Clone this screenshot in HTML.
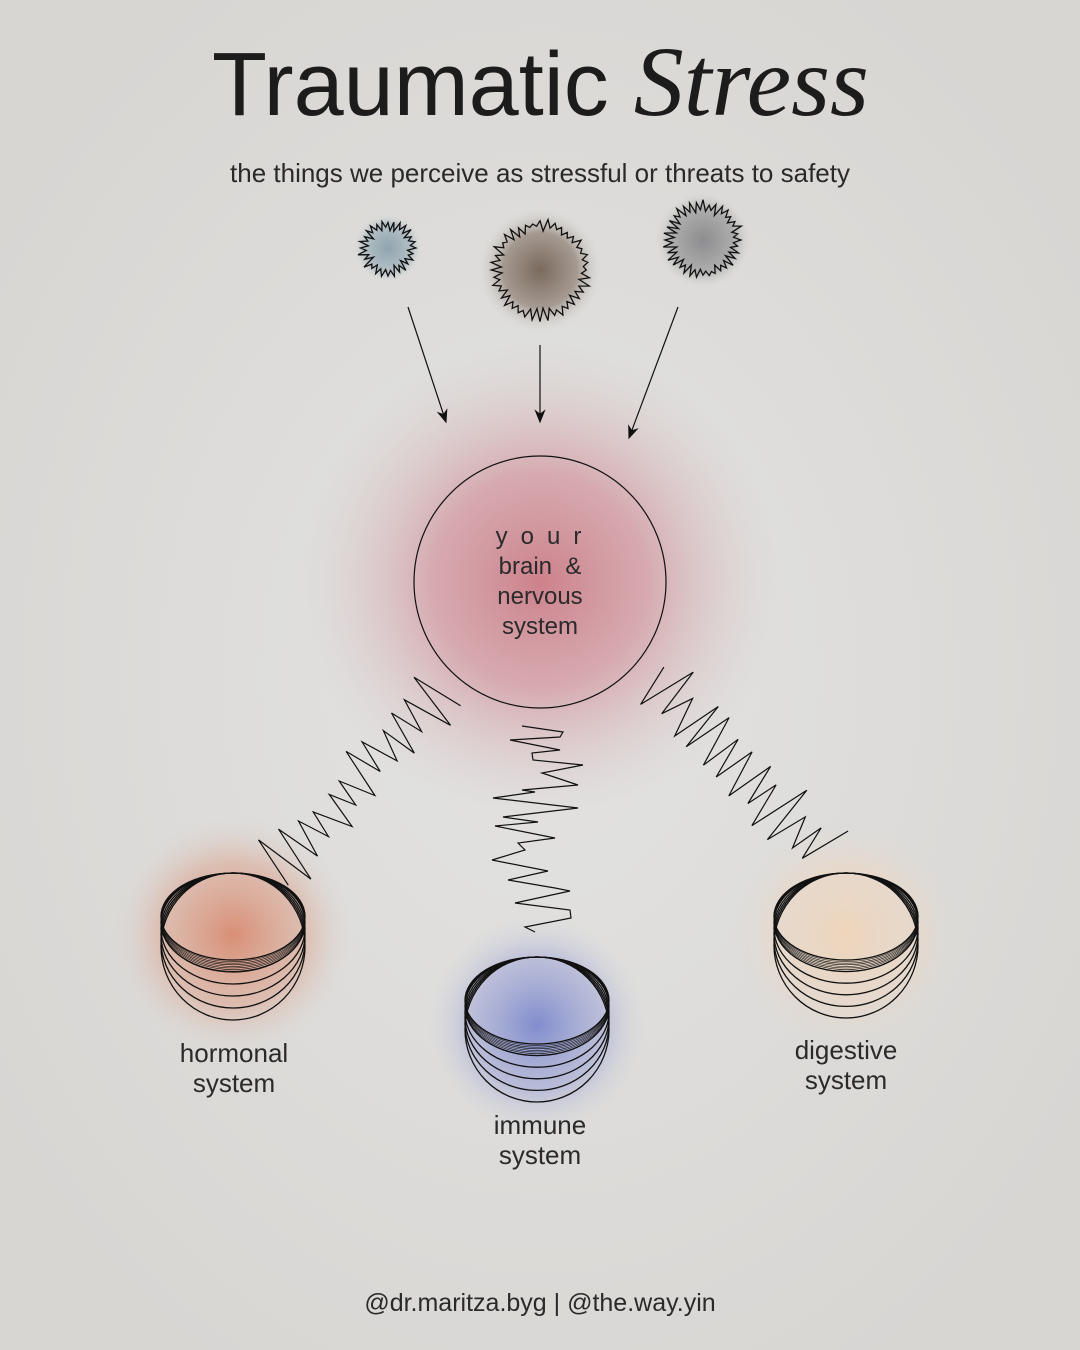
<!DOCTYPE html>
<html><head><meta charset="utf-8">
<style>
html,body{margin:0;padding:0}
body{width:1080px;height:1350px;overflow:hidden;background:#dfdedc;font-family:"Liberation Sans",sans-serif;color:#1e1e1e;position:relative}
.t{position:absolute;white-space:nowrap}
</style></head><body>
<svg width="1080" height="1350" style="position:absolute;left:0;top:0" xmlns="http://www.w3.org/2000/svg">
<defs>
<radialGradient id="bg" cx="50%" cy="50%" r="60%"><stop offset="0" stop-color="#e3e3e2"/><stop offset="1" stop-color="#d8d6d3"/></radialGradient>
<radialGradient id="red"><stop offset="0" stop-color="#c9707c" stop-opacity=".85"/><stop offset=".45" stop-color="#cf8690" stop-opacity=".6"/><stop offset="1" stop-color="#d9c9c9" stop-opacity="0"/></radialGradient>
<radialGradient id="or"><stop offset="0" stop-color="#d8866a" stop-opacity=".9"/><stop offset=".6" stop-color="#dca590" stop-opacity=".55"/><stop offset="1" stop-color="#dcd2cc" stop-opacity="0"/></radialGradient>
<radialGradient id="bl"><stop offset="0" stop-color="#7c88cc" stop-opacity=".95"/><stop offset=".6" stop-color="#a3a9d6" stop-opacity=".6"/><stop offset="1" stop-color="#d5d5dc" stop-opacity="0"/></radialGradient>
<radialGradient id="pe"><stop offset="0" stop-color="#f0d4b8" stop-opacity=".9"/><stop offset=".6" stop-color="#ecd7c4" stop-opacity=".6"/><stop offset="1" stop-color="#e0dad4" stop-opacity="0"/></radialGradient>
<radialGradient id="b1"><stop offset="0" stop-color="#90a4ae"/><stop offset=".7" stop-color="#b4c0c6"/><stop offset="1" stop-color="#d8d8d8" stop-opacity="0"/></radialGradient>
<radialGradient id="b2"><stop offset="0" stop-color="#7a6a5e"/><stop offset=".6" stop-color="#a59a91"/><stop offset="1" stop-color="#d8d6d3" stop-opacity="0"/></radialGradient>
<radialGradient id="b3"><stop offset="0" stop-color="#8d8d8f"/><stop offset=".65" stop-color="#adadad"/><stop offset="1" stop-color="#d8d8d8" stop-opacity="0"/></radialGradient>
<marker id="ah" viewBox="0 0 10 10" refX="9" refY="5" markerWidth="18" markerHeight="14" markerUnits="userSpaceOnUse" orient="auto"><path d="M0,1 L10,5 L0,9 L3,5 Z" fill="#111"/></marker>
</defs>
<rect width="1080" height="1350" fill="url(#bg)"/>
<circle cx="540" cy="582" r="240" fill="url(#red)"/>
<circle cx="233" cy="935" r="120" fill="url(#or)"/>
<circle cx="537" cy="1025" r="110" fill="url(#bl)"/>
<circle cx="846" cy="935" r="115" fill="url(#pe)"/>
<circle cx="388" cy="248" r="34" fill="url(#b1)"/>
<circle cx="540" cy="270" r="62" fill="url(#b2)"/>
<circle cx="703" cy="240" r="48" fill="url(#b3)"/>
<g id="blobs" fill="none" stroke="#111" stroke-width="1.3"></g>
<g stroke="#111" stroke-width="1.2" fill="none">
<line x1="408" y1="307" x2="446" y2="422" marker-end="url(#ah)"/>
<line x1="540" y1="345" x2="540" y2="422" marker-end="url(#ah)"/>
<line x1="678" y1="307" x2="629" y2="438" marker-end="url(#ah)"/>
<circle cx="540" cy="582" r="126"/>
<polyline points="522,726 563,732 560,737 510,740 560,750 532,753 533,760 583,765 542,773 578,785 522,790 535,792 493,798 578,808 503,817 538,822 495,826 555,838 518,843 525,850 492,860 548,871 508,880 555,888 570,891 515,903 570,910 571,918 525,927 535,932"/>
</g>
<g id="zz" fill="none" stroke="#111" stroke-width="1.2"></g>
<g id="stk" fill="none" stroke="#111"></g>
</svg>
<div class="t" style="left:212px;top:24px;font-size:90px;letter-spacing:0px;color:#1c1c1c">Traumatic <span style="font-family:'Liberation Serif',serif;font-style:italic;font-size:100px;letter-spacing:0px">Stress</span></div>
<div class="t" style="left:0;width:1080px;text-align:center;top:158px;font-size:26px;color:#2a2a2a">the things we perceive as stressful or threats to safety</div>
<div class="t" style="left:0;width:1080px;text-align:center;top:522px;font-size:24px;line-height:30px;color:#2a2a2a"><span style="letter-spacing:13px;margin-left:10px">your</span><br>brain &nbsp;&amp;<br>nervous<br>system</div>
<div class="t" style="left:134px;width:200px;text-align:center;top:1038px;font-size:26px;line-height:30px;color:#2a2a2a">hormonal<br>system</div>
<div class="t" style="left:440px;width:200px;text-align:center;top:1110px;font-size:26px;line-height:30px;color:#2a2a2a">immune<br>system</div>
<div class="t" style="left:746px;width:200px;text-align:center;top:1035px;font-size:26px;line-height:30px;color:#2a2a2a">digestive<br>system</div>
<div class="t" style="left:0;width:1080px;text-align:center;top:1289px;font-size:25px;color:#2a2a2a">@dr.maritza.byg | @the.way.yin</div>
<script>
var s=7;function r(){s=(s*9301+49297)%233280;return s/233280;}
var NS="http://www.w3.org/2000/svg";
function el(g,t,a){var e=document.createElementNS(NS,t);for(var k in a)e.setAttribute(k,a[k]);document.getElementById(g).appendChild(e);}
[[388,248,24,28],[540,270,45,40],[703,240,34,36]].forEach(function(b){var p=[];var n=b[3]*2;for(var i=0;i<n;i++){var a=i/n*Math.PI*2;var rr=b[2]+(i%2?-1:1)*(1+r()*6);p.push((b[0]+rr*Math.cos(a)).toFixed(1)+","+(b[1]+rr*Math.sin(a)).toFixed(1));}el("blobs","polygon",{points:p.join(" ")});});
function zig(x1,y1,x2,y2,n,amp){var dx=x2-x1,dy=y2-y1,L=Math.hypot(dx,dy),px=-dy/L,py=dx/L,p=[];for(var i=0;i<=n;i++){var t=i/n+(r()-.5)*0.03;var a=(i%2?1:-1)*amp*(0.4+r()*0.9);p.push((x1+dx*t+px*a).toFixed(1)+","+(y1+dy*t+py*a).toFixed(1));}el("zz","polyline",{points:p.join(" ")});}
zig(440,690,275,870,24,26);
zig(655,680,825,855,24,26);
function stack(cx,top,bot,rx){
 var ry0=43.5;var ry1=(bot-top)/2;
 for(var k=0;k<8;k++){var ry=ry0+k*0.8;el("stk","ellipse",{cx:cx,cy:top+ry,rx:rx,ry:ry,"stroke-width":0.6});}
 for(var k=0;k<6;k++){var ry=ry0+(ry1-ry0)*k/5;el("stk","ellipse",{cx:cx,cy:top+ry,rx:rx,ry:ry,"stroke-width":1.3});}
}
stack(233,873,1020,72);
stack(537,957,1102,72);
stack(846,873,1018,72);
</script>
</body></html>
